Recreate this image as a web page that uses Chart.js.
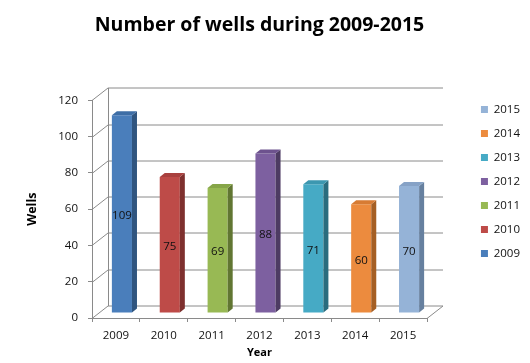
<!DOCTYPE html>
<html>
<head>
<meta charset="utf-8">
<script src="https://cdn.jsdelivr.net/npm/chart.js@4.4.0/dist/chart.umd.min.js"></script>
<style>
  html, body { margin: 0; padding: 0; background: #fff; }
  #wrap { width: 530px; height: 363px; }
</style>
</head>
<body>
<div id="wrap"><canvas id="wellsChart" width="530" height="363"></canvas></div>
<script>
const years = ["2009", "2010", "2011", "2012", "2013", "2014", "2015"];
const wells = [109, 75, 69, 88, 71, 60, 70];
const yTicks = [0, 20, 40, 60, 80, 100, 120];

const frontColors = ["#4a7ebb", "#be4b48", "#98b954", "#7d60a0", "#46aac5", "#ec8b3e", "#95b3d7"];
const sideColors = ["#30557f", "#7e302e", "#617632", "#4d3b63", "#2a6c7e", "#a55f24", "#66809f"];
const topColors = ["#3e6ea6", "#a9403e", "#86a548", "#6d528e", "#3c97b0", "#d77b33", "#86a2c6"];

const FONT = "'Open Sans', 'DejaVu Sans', sans-serif";
const GRID = "#8a8a8a";

// 3d look: back wall offset and bar depth
const WALL_DX = 16, WALL_DY = 12.5;
const BAR_DX = 6, BAR_DY = -5;
const SIDE_W = 5, TOP_H = 4;

const wallPlugin = {
  id: "wall3d",
  beforeDatasetsDraw(chart) {
    const { ctx, chartArea: a, scales: { y } } = chart;
    ctx.save();
    ctx.strokeStyle = GRID;
    ctx.lineWidth = 1;
    ctx.beginPath();
    yTicks.forEach(v => {
      const py = Math.round(y.getPixelForValue(v)) + 0.5;
      ctx.moveTo(a.left, py);
      ctx.lineTo(a.left + WALL_DX, py - WALL_DY);
      ctx.lineTo(a.right + WALL_DX, py - WALL_DY);
    });
    const bx = Math.round(a.left + WALL_DX) + 0.5;
    ctx.moveTo(bx, Math.round(a.top) + 0.5 - WALL_DY);
    ctx.lineTo(bx, Math.round(a.bottom) + 0.5 - WALL_DY);
    ctx.moveTo(a.right, Math.round(a.bottom) + 0.5);
    ctx.lineTo(a.right + WALL_DX, Math.round(a.bottom) + 0.5 - WALL_DY);
    ctx.stroke();
    ctx.restore();

    ctx.save();
    ctx.translate(BAR_DX, BAR_DY);
  },
  afterDatasetsDraw(chart) {
    const { ctx } = chart;
    chart.data.datasets.forEach((ds, i) => {
      const meta = chart.getDatasetMeta(i);
      meta.data.forEach((bar, j) => {
        if (ds.data[j] == null) return;
        const { x, y, base, width } = bar.getProps(["x", "y", "base", "width"], true);
        const l = x - width / 2, r = x + width / 2;
        ctx.fillStyle = sideColors[i];
        ctx.beginPath();
        ctx.moveTo(r, y);
        ctx.lineTo(r + SIDE_W, y - TOP_H);
        ctx.lineTo(r + SIDE_W, base - TOP_H);
        ctx.lineTo(r, base);
        ctx.closePath();
        ctx.fill();
        ctx.fillStyle = topColors[i];
        ctx.beginPath();
        ctx.moveTo(l, y);
        ctx.lineTo(l + SIDE_W, y - TOP_H);
        ctx.lineTo(r + SIDE_W, y - TOP_H);
        ctx.lineTo(r, y);
        ctx.closePath();
        ctx.fill();

        ctx.fillStyle = "#111";
        ctx.font = "11.5px " + FONT;
        ctx.textAlign = "center";
        ctx.textBaseline = "middle";
        ctx.fillText(String(ds.data[j]), x, (y + base) / 2 + 2);
      });
    });
    ctx.restore();
  }
};

const datasets = years.map((yr, i) => ({
  label: yr,
  data: years.map((_, j) => (j === i ? wells[i] : null)),
  backgroundColor: frontColors[i],
  borderWidth: 0,
  grouped: false,
  categoryPercentage: 1,
  barPercentage: 0.42
}));

new Chart(document.getElementById("wellsChart"), {
  type: "bar",
  data: { labels: years, datasets },
  plugins: [wallPlugin],
  options: {
    responsive: false,
    animation: false,
    layout: { padding: 0 },
    plugins: {
      title: {
        display: true,
        fullSize: false,
        text: "Number of wells during 2009-2015",
        color: "#000",
        font: { family: FONT, size: 19.5, weight: "bold" },
        padding: { top: 14, bottom: 63 }
      },
      legend: {
        position: "right",
        reverse: true,
        labels: {
          color: "#111",
          font: { family: FONT, size: 11.5 },
          boxWidth: 7,
          boxHeight: 7,
          padding: 12.5
        }
      },
      tooltip: { enabled: false }
    },
    scales: {
      x: {
        grid: { drawOnChartArea: false, tickColor: GRID, tickLength: 4 },
        border: { color: GRID },
        ticks: { color: "#111", font: { family: FONT, size: 11.5 }, padding: 7 },
        title: {
          display: true,
          text: "Year",
          color: "#000",
          font: { family: FONT, size: 11, weight: "bold" },
          padding: { top: 0, bottom: 4 }
        },
        afterFit: s => { s.height = 45; }
      },
      y: {
        min: 0,
        max: 120,
        ticks: { stepSize: 20, color: "#111", font: { family: FONT, size: 11.5 }, padding: 10 },
        grid: { drawOnChartArea: false, tickColor: GRID, tickLength: 4 },
        border: { color: GRID },
        title: {
          display: true,
          text: "Wells",
          color: "#000",
          font: { family: FONT, size: 12.5, weight: "bold" },
          padding: { top: 25, bottom: 0 }
        },
        afterFit: s => { s.width = 92; }
      },
      y2: {
        position: "right",
        display: true,
        grid: { display: false },
        border: { display: false },
        ticks: { display: false },
        afterFit: s => {
          const lw = s.chart.legend ? s.chart.legend.width : 63;
          s.width = Math.max(530 - 427 - lw, 0);
        }
      }
    }
  }
});
</script>
</body>
</html>
